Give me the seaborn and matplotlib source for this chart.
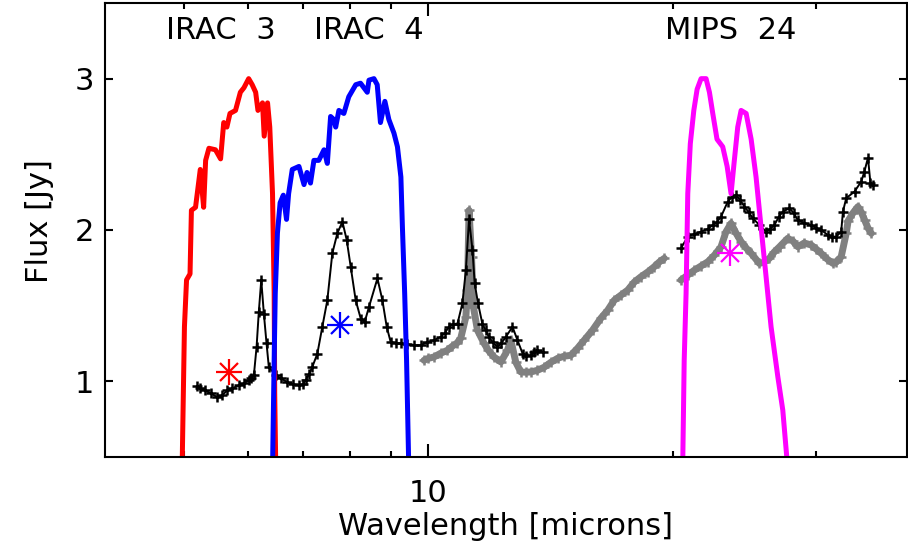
import numpy as np
import pandas as pd
import seaborn as sns
import matplotlib.pyplot as plt
from matplotlib.ticker import FixedLocator, FixedFormatter, NullFormatter, NullLocator

# filter response curves (scaled to peak flux 3)
irac3_wave = [4.977, 5.01, 5.04, 5.09, 5.11, 5.17, 5.24, 5.29, 5.32, 5.37, 5.47, 5.55, 5.60, 5.65, 5.70,
              5.79, 5.87, 5.93, 6.01, 6.07, 6.13, 6.17, 6.25, 6.28, 6.34, 6.38, 6.43, 6.46, 6.47, 6.49]
irac3_resp = [0.42, 1.36, 1.67, 1.71, 2.13, 2.15, 2.40, 2.15, 2.46, 2.54, 2.53, 2.47, 2.71, 2.68, 2.77,
              2.79, 2.91, 2.94, 3.00, 2.96, 2.91, 2.79, 2.84, 2.62, 2.84, 2.68, 2.24, 1.58, 0.92, 0.42]

irac4_wave = [6.43, 6.46, 6.48, 6.52, 6.57, 6.63, 6.69, 6.73, 6.80, 6.93, 7.03, 7.09, 7.16, 7.23, 7.33,
              7.44, 7.51, 7.58, 7.65, 7.69, 7.76, 7.87, 7.98, 8.14, 8.25, 8.41, 8.45, 8.57, 8.65, 8.73,
              8.84, 8.94, 9.07, 9.16, 9.25, 9.29, 9.35, 9.40, 9.46]
irac4_resp = [0.42, 1.14, 1.58, 1.98, 2.18, 2.23, 2.07, 2.24, 2.40, 2.42, 2.30, 2.38, 2.31, 2.46, 2.46,
              2.53, 2.44, 2.75, 2.73, 2.68, 2.79, 2.77, 2.88, 2.96, 2.97, 2.91, 2.99, 3.00, 2.96, 2.71,
              2.85, 2.73, 2.64, 2.55, 2.35, 2.02, 1.58, 1.14, 0.42]

mips24_wave = [20.55, 20.64, 20.75, 20.85, 21.00, 21.21, 21.41, 21.65, 21.96, 22.17, 22.38, 22.65, 23.02,
               23.31, 23.57, 23.79, 24.02, 24.25, 24.60, 24.95, 25.30, 25.66, 26.03, 26.40, 26.91, 27.29, 27.68]
mips24_resp = [0.42, 1.14, 1.58, 2.24, 2.57, 2.79, 2.93, 3.00, 3.00, 2.91, 2.77, 2.60, 2.55,
               2.42, 2.24, 2.46, 2.68, 2.79, 2.77, 2.60, 2.35, 2.02, 1.69, 1.36, 1.03, 0.81, 0.42]

# black spectrum, short-wavelength part
spec1_wave = [5.194, 5.24, 5.316, 5.394, 5.498, 5.575, 5.656, 5.739, 5.845, 5.93, 6.012, 6.058, 6.099,
              6.146, 6.185, 6.228, 6.274, 6.322, 6.363, 6.486, 6.58, 6.704, 6.816, 6.928, 7.0, 7.062,
              7.13, 7.197, 7.301, 7.404, 7.51, 7.617, 7.726, 7.838, 7.934, 8.024, 8.138, 8.255, 8.349,
              8.451, 8.655, 8.778, 8.886, 8.986, 9.114, 9.245, 9.42, 9.6, 9.78, 9.972, 10.16, 10.35,
              10.47, 10.6, 10.71, 10.86, 11.01, 11.12, 11.22, 11.33, 11.4, 11.51, 11.65, 11.76, 11.87,
              12.0, 12.16, 12.3, 12.45, 12.69, 12.87, 13.06, 13.2, 13.37, 13.49, 13.62, 13.82]
spec1_flux = [0.967, 0.953, 0.940, 0.921, 0.896, 0.907, 0.940, 0.954, 0.974, 0.987, 1.007, 1.020, 1.040,
              1.227, 1.459, 1.669, 1.448, 1.250, 1.095, 1.040, 1.020, 0.995, 0.980, 0.974, 0.980, 1.007,
              1.046, 1.095, 1.183, 1.360, 1.536, 1.846, 1.978, 2.055, 1.934, 1.757, 1.536, 1.415, 1.393,
              1.492, 1.680, 1.536, 1.360, 1.260, 1.252, 1.250, 1.245, 1.238, 1.238, 1.260, 1.272, 1.293,
              1.318, 1.360, 1.377, 1.382, 1.515, 1.735, 2.070, 1.868, 1.647, 1.515, 1.382, 1.338, 1.293,
              1.258, 1.227, 1.252, 1.293, 1.360, 1.272, 1.183, 1.166, 1.172, 1.192, 1.205, 1.194]

# black spectrum, long-wavelength part
spec2_wave = [20.45, 20.85, 21.25, 21.65, 22.07, 22.38, 22.65, 22.91, 23.35, 23.64, 23.90, 24.18, 24.48,
              24.77, 25.07, 25.54, 26.03, 26.34, 26.65, 26.98, 27.29, 27.81, 28.14, 28.48, 29.0, 29.57,
              30.0, 30.42, 31.01, 31.39, 31.75, 32.2, 32.36, 32.66, 33.44, 34.08, 34.38, 34.74, 34.98, 35.24]
spec2_flux = [1.879, 1.956, 1.974, 1.989, 2.007, 2.033, 2.053, 2.088, 2.187, 2.219, 2.232, 2.199, 2.154,
              2.119, 2.077, 2.033, 1.989, 2.007, 2.033, 2.086, 2.121, 2.144, 2.113, 2.066, 2.046, 2.033,
              2.013, 2.000, 1.967, 1.956, 1.956, 1.989, 2.121, 2.210, 2.254, 2.320, 2.384, 2.477, 2.311, 2.298]

# grey spectrum
grey1_wave = [9.876, 10.0, 10.16, 10.35, 10.55, 10.7, 10.84, 10.96, 11.12, 11.17, 11.22, 11.3, 11.36,
              11.49, 11.71, 11.85, 12.04, 12.28, 12.51, 12.63, 12.81, 12.99, 13.18, 13.37, 13.62, 13.88,
              14.15, 14.42, 14.69, 14.97, 15.26, 15.55, 15.92, 16.3, 16.62, 16.93, 17.26, 17.59, 17.92,
              18.26, 18.61, 18.96, 19.23, 19.51]
grey1_flux = [1.139, 1.152, 1.161, 1.185, 1.205, 1.232, 1.252, 1.285, 1.426, 1.603, 2.130, 1.823, 1.492,
              1.338, 1.250, 1.205, 1.161, 1.128, 1.205, 1.272, 1.126, 1.062, 1.060, 1.062, 1.073, 1.093,
              1.126, 1.152, 1.166, 1.172, 1.219, 1.272, 1.338, 1.417, 1.470, 1.536, 1.570, 1.603, 1.656,
              1.691, 1.722, 1.757, 1.788, 1.813]

grey2_wave = [20.45, 20.85, 21.25, 21.65, 22.07, 22.49, 22.91, 23.23, 23.57, 23.90, 24.25, 24.60, 24.95,
              25.54, 25.88, 26.28, 26.63, 27.04, 27.68, 28.08, 28.48, 29.0, 29.57, 30.0, 30.42, 30.94,
              31.46, 31.75, 32.2, 32.66, 32.84, 33.28, 33.76, 34.08, 34.41, 34.74, 35.07]
grey2_flux = [1.669, 1.702, 1.735, 1.762, 1.790, 1.834, 1.889, 1.987, 2.044, 1.980, 1.923, 1.881, 1.846,
              1.779, 1.788, 1.813, 1.854, 1.889, 1.945, 1.927, 1.889, 1.914, 1.901, 1.874, 1.846, 1.808,
              1.779, 1.788, 1.823, 1.978, 2.060, 2.111, 2.154, 2.119, 2.066, 2.013, 1.978]

# photometry points
phot_wave = [5.69, 7.78, 23.5]
phot_flux = [1.06, 1.37, 1.85]
phot_color = ["#ff0000", "#0000ff", "#ff00ff"]

band_names = ["IRAC  3", "IRAC  4", "MIPS  24"]
band_xpos = [0.145, 0.329, 0.78]

sns.set_style("ticks")
plt.rcParams['font.family'] = ['DejaVu Sans']
plt.rcParams['text.color'] = 'black'
plt.rcParams['axes.labelcolor'] = 'black'
plt.rcParams['xtick.color'] = 'black'
plt.rcParams['ytick.color'] = 'black'

fig = plt.figure(figsize=(9.08, 5.52), dpi=100)
ax = fig.add_axes([0.1156, 0.1721, 0.8833, 0.8225])
ax.set_xscale('log')

def spectrum(wave, flux, color, lw):
    sns.lineplot(x=wave, y=flux, ax=ax, color=color, sort=False, estimator=None, linewidth=lw,
                 marker='+', markersize=7, markeredgewidth=1.8, markeredgecolor=color)

spectrum(grey1_wave, grey1_flux, "#808080", 5)
spectrum(grey2_wave, grey2_flux, "#808080", 5)
spectrum(spec1_wave, spec1_flux, "black", 1.4)
spectrum(spec2_wave, spec2_flux, "black", 1.4)

sns.lineplot(x=irac3_wave, y=irac3_resp, ax=ax, color="#ff0000", sort=False, estimator=None, linewidth=3.6)
sns.lineplot(x=irac4_wave, y=irac4_resp, ax=ax, color="#0000ff", sort=False, estimator=None, linewidth=3.6)
sns.lineplot(x=mips24_wave, y=mips24_resp, ax=ax, color="#ff00ff", sort=False, estimator=None, linewidth=3.6)

for w, f, c in zip(phot_wave, phot_flux, phot_color):
    ax.plot(w, f, marker='+', markersize=19, markeredgewidth=1.6, color=c, linestyle='none')
    ax.plot(w, f, marker='x', markersize=13.4, markeredgewidth=1.6, color=c, linestyle='none')

for name, xp in zip(band_names, band_xpos):
    ax.text(xp, 0.94, name, transform=ax.transAxes, ha='center', va='center', fontsize=22)

ax.set_xlim(4, 38.8)
ax.set_ylim(0.5, 3.5)
ax.xaxis.set_major_locator(FixedLocator([10]))
ax.xaxis.set_major_formatter(FixedFormatter(['10']))
ax.xaxis.set_minor_locator(FixedLocator([5, 6, 7, 8, 9, 20, 30]))
ax.xaxis.set_minor_formatter(NullFormatter())
ax.yaxis.set_major_locator(FixedLocator([1, 2, 3]))
ax.yaxis.set_major_formatter(FixedFormatter(['1', '2', '3']))
ax.yaxis.set_minor_locator(NullLocator())

ax.tick_params(which='both', direction='in', top=True, right=True, width=1.5, color='black',
               labelsize=22, labelcolor='black')
ax.tick_params(axis='x', which='major', length=9.5, pad=16)
ax.tick_params(axis='x', which='minor', length=4.5)
ax.tick_params(axis='y', which='major', length=6, pad=8)
for sp in ax.spines.values():
    sp.set_linewidth(1.5)
    sp.set_color('black')

ax.set_xlabel('Wavelength [microns]', fontsize=22, va='center')
ax.xaxis.set_label_coords(0.5, -0.154)
ax.set_ylabel('Flux [Jy]', fontsize=22, va='center')
ax.yaxis.set_label_coords(-0.081, 0.52)

fig.savefig('out.png', dpi=100)
